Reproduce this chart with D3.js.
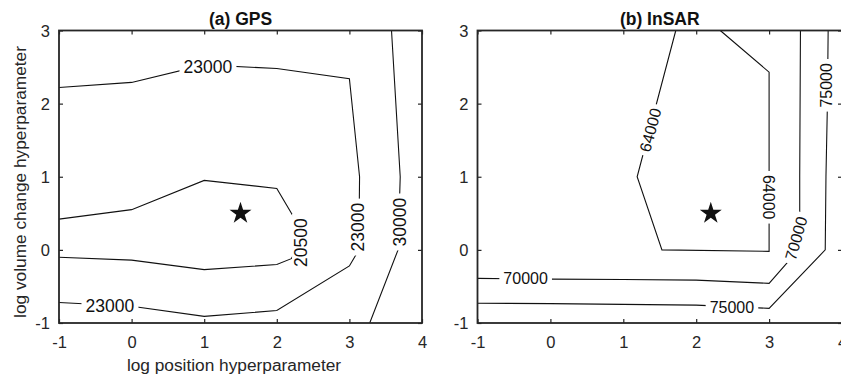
<!DOCTYPE html>
<html>
<head>
<meta charset="utf-8">
<script src="https://cdn.jsdelivr.net/npm/d3@7"></script>
<style>
  html, body { margin: 0; padding: 0; background: #fff; }
  svg { display: block; font-family: "Liberation Sans", Arial, Helvetica, sans-serif; }
</style>
</head>
<body>
<svg id="chart" width="841" height="376"></svg>
<script>
// ---------- data ----------
const xTicks = [-1, 0, 1, 2, 3, 4];
const yTicks = [-1, 0, 1, 2, 3];
const xDomain = [-1, 4];
const yDomain = [-1, 3];

const panelTitles = ["(a) GPS", "(b) InSAR"];
const xAxisLabel = "log position hyperparameter";
const yAxisLabel = "log volume change hyperparameter";

// GPS contour lines [x, y]
const gps23000 = [[-1, 2.22], [0, 2.29], [1, 2.53], [2, 2.48], [3, 2.34], [3.14, 1.0], [3.13, 0.0], [3.0, -0.22], [2, -0.83], [1, -0.91], [0, -0.77], [-1, -0.72]];
const gps20500 = [[-1, 0.42], [0, 0.55], [1, 0.95], [2, 0.84], [2.25, 0.42], [2.35, 0.12], [2.2, -0.12], [2, -0.2], [1, -0.27], [0, -0.14], [-1, -0.1]];
const gps30000 = [[3.58, 3], [3.70, 1.0], [3.67, 0.0], [3.28, -1]];
// GPS contour labels [text, x, y, angle]
const gpsLabels = [
  ["23000", 1.05, 2.50, 0],
  ["23000", -0.30, -0.77, 0],
  ["20500", 2.33, 0.10, -90],
  ["23000", 3.12, 0.31, -90],
  ["30000", 3.69, 0.38, -90]
];
const gpsBest = [1.5, 0.5];

// InSAR contour lines [x, y]
const insar64000 = [[1.72, 3], [1.19, 1.0], [1.53, 0.0], [3.0, -0.02], [3.0, 2.43], [2.33, 3]];
const insar70000 = [[-1, -0.39], [0, -0.40], [1, -0.405], [2, -0.413], [3, -0.458], [3.42, 0.02], [3.42, 1.0], [3.43, 3]];
const insar75000 = [[-1, -0.73], [0, -0.735], [1, -0.745], [2, -0.755], [3, -0.80], [3.77, 0.0], [3.78, 1.0], [3.80, 2.0], [3.81, 3]];
// InSAR contour labels [text, x, y, angle]
const insarLabels = [
  ["64000", 1.37, 1.64, -75],
  ["64000", 3.0, 0.72, 90],
  ["70000", -0.34, -0.39, 0],
  ["70000", 3.37, 0.16, -74],
  ["75000", 2.49, -0.787, 0],
  ["75000", 3.79, 2.25, -90]
];
const insarBest = [2.2, 0.5];

// ---------- drawing ----------
const svg = d3.select("#chart");
const axisColor = "#262626";
const fmt = d => String(d);

const panels = [
  { left: 59, right: 422, lines: [gps23000, gps20500, gps30000], labels: gpsLabels, best: gpsBest, title: panelTitles[0], labelSize: 17.5, showY: true, showX: true },
  { left: 477.5, right: 842, lines: [insar64000, insar70000, insar75000], labels: insarLabels, best: insarBest, title: panelTitles[1], labelSize: 16, showY: false, showX: false }
];
const plotTop = 30.5, plotBottom = 323;

panels.forEach((p, i) => {
  const x = d3.scaleLinear().domain(xDomain).range([p.left, p.right]);
  const y = d3.scaleLinear().domain(yDomain).range([plotBottom, plotTop]);
  const g = svg.append("g");

  const clipId = "clip" + i;
  svg.append("clipPath").attr("id", clipId)
    .append("rect").attr("x", p.left).attr("y", plotTop)
    .attr("width", p.right - p.left).attr("height", plotBottom - plotTop);

  const plot = g.append("g").attr("clip-path", `url(#${clipId})`);
  const line = d3.line().x(d => x(d[0])).y(d => y(d[1]));
  plot.selectAll("path.contour").data(p.lines).join("path")
    .attr("class", "contour")
    .attr("d", line)
    .attr("fill", "none")
    .attr("stroke", "#111")
    .attr("stroke-width", 1.1);

  // contour labels with white gap
  p.labels.forEach(l => {
    const lg = plot.append("g")
      .attr("transform", `translate(${x(l[1])},${y(l[2])}) rotate(${l[3]})`);
    const rect = lg.append("rect").attr("fill", "#fff");
    const t = lg.append("text")
      .attr("text-anchor", "middle")
      .attr("dy", "0.36em")
      .attr("font-size", p.labelSize)
      .attr("fill", "#111")
      .text(l[0]);
    const bb = t.node().getBBox();
    rect.attr("x", bb.x - 4).attr("y", bb.y + 1)
      .attr("width", bb.width + 8).attr("height", bb.height - 2);
  });

  // best-fit star
  plot.append("path")
    .attr("d", d3.symbol().type(d3.symbolStar).size(150)())
    .attr("transform", `translate(${x(p.best[0])},${y(p.best[1])})`)
    .attr("fill", "#111");

  // axes
  const ax = g.append("g").attr("transform", `translate(0,${plotBottom})`)
    .call(d3.axisBottom(x).tickValues(xTicks).tickFormat(fmt).tickSizeInner(-4).tickSizeOuter(0).tickPadding(13));
  const axT = g.append("g").attr("transform", `translate(0,${plotTop})`)
    .call(d3.axisTop(x).tickValues(xTicks).tickFormat("").tickSizeInner(-4).tickSizeOuter(0));
  const ay = g.append("g").attr("transform", `translate(${p.left},0)`)
    .call(d3.axisLeft(y).tickValues(yTicks).tickFormat(fmt).tickSizeInner(-4).tickSizeOuter(0).tickPadding(9));
  const ayR = g.append("g").attr("transform", `translate(${p.right},0)`)
    .call(d3.axisRight(y).tickValues(yTicks).tickFormat("").tickSizeInner(-4).tickSizeOuter(0));
  [ax, axT, ay, ayR].forEach(a => {
    a.select(".domain").remove();
    a.selectAll(".tick line").attr("stroke", axisColor).attr("stroke-width", 1.2);
    a.selectAll(".tick text").attr("fill", axisColor).attr("font-size", 16.5)
      .attr("font-family", "'Liberation Sans', Arial, sans-serif");
  });
  ay.selectAll(".tick text").attr("dy", "0.34em");

  g.append("rect")
    .attr("x", p.left).attr("y", plotTop)
    .attr("width", p.right - p.left).attr("height", plotBottom - plotTop)
    .attr("fill", "none").attr("stroke", axisColor).attr("stroke-width", 1.8);

  // title
  g.append("text")
    .attr("x", (p.left + p.right) / 2).attr("y", 24.5)
    .attr("text-anchor", "middle")
    .attr("font-size", 17.5).attr("font-weight", "bold")
    .attr("fill", "#111")
    .text(p.title);

  if (p.showX) {
    g.append("text")
      .attr("x", 234).attr("y", 371)
      .attr("text-anchor", "middle")
      .attr("font-size", 17.3).attr("fill", axisColor)
      .text(xAxisLabel);
  }
  if (p.showY) {
    g.append("text")
      .attr("transform", `translate(26,182) rotate(-90)`)
      .attr("text-anchor", "middle")
      .attr("font-size", 17.3).attr("fill", axisColor)
      .text(yAxisLabel);
  }
});
</script>
</body>
</html>
